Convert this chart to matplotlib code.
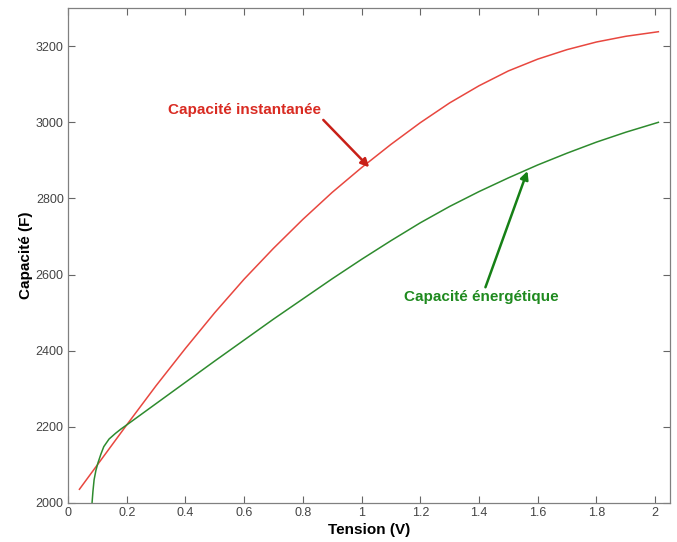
import numpy as np
import matplotlib.pyplot as plt

plt.rcParams['font.family'] = ['Liberation Sans', 'DejaVu Sans']

# courbes (tension en V, capacité en F)
v_inst = [0.039, 0.1, 0.2, 0.3, 0.4, 0.5, 0.6, 0.7, 0.8, 0.9, 1.0,
          1.1, 1.2, 1.3, 1.4, 1.5, 1.6, 1.7, 1.8, 1.9, 2.011]
c_inst = [2036, 2100, 2205, 2308, 2406, 2500, 2588, 2669, 2745, 2816, 2881,
          2942, 2999, 3051, 3096, 3135, 3166, 3191, 3211, 3226, 3238]

v_ener = [0.080, 0.082, 0.085, 0.089, 0.095, 0.102, 0.112, 0.122, 0.14, 0.162, 0.18, 0.2,
          0.3, 0.4, 0.5, 0.6, 0.7, 0.8, 0.9, 1.0, 1.1, 1.2, 1.3, 1.4, 1.5, 1.6, 1.7, 1.8, 1.9, 2.011]
c_ener = [1980, 2000, 2030, 2061, 2085, 2105, 2128, 2148, 2168, 2183, 2194, 2205,
          2261, 2317, 2373, 2428, 2483, 2536, 2589, 2640, 2689, 2736, 2779, 2818, 2854, 2888,
          2919, 2948, 2974, 3000]

x_ticks = [0, 0.2, 0.4, 0.6, 0.8, 1, 1.2, 1.4, 1.6, 1.8, 2]
y_ticks = [2000, 2200, 2400, 2600, 2800, 3000, 3200]

fig = plt.figure(figsize=(6.77, 5.42), dpi=100)
ax = fig.add_axes([0.1004, 0.072, 0.889, 0.913])

ax.plot(v_inst, c_inst, color='#e8473f', lw=1.1)
ax.plot(v_ener, c_ener, color='#2e8b2e', lw=1.1)

ax.set_xlim(0, 2.05)
ax.set_ylim(2000, 3300)
ax.set_xticks(x_ticks)
ax.set_xticklabels(['%g' % t for t in x_ticks])
ax.set_yticks(y_ticks)
ax.tick_params(direction='in', length=5, width=0.8, color='#666666',
               labelsize=9, labelcolor='#444444', top=True, right=True, pad=3)
for s in ax.spines.values():
    s.set_color('#808080')
    s.set_linewidth(0.9)

ax.set_xlabel('Tension (V)', fontsize=11, fontweight='bold', labelpad=3)
ax.set_ylabel('Capacité (F)', fontsize=11, fontweight='bold', labelpad=2)

# annotations avec fleches
ax.annotate('Capacité instantanée', xy=(1.026, 2882), xytext=(0.6, 3032),
            ha='center', va='center', fontsize=11, fontweight='bold', color='#d92b22',
            arrowprops=dict(arrowstyle='-|>', color='#c82018', lw=1.8,
                            mutation_scale=12, shrinkA=0, shrinkB=0,
                            relpos=(1.0, 0.0)))
ax.annotate('Capacité énergétique', xy=(1.565, 2872), xytext=(1.408, 2541),
            ha='center', va='center', fontsize=11, fontweight='bold', color='#1f8a1f',
            arrowprops=dict(arrowstyle='-|>', color='#168016', lw=1.8,
                            mutation_scale=12, shrinkA=0, shrinkB=0,
                            relpos=(0.52, 1.0)))

fig.savefig('out.png', dpi=100)
